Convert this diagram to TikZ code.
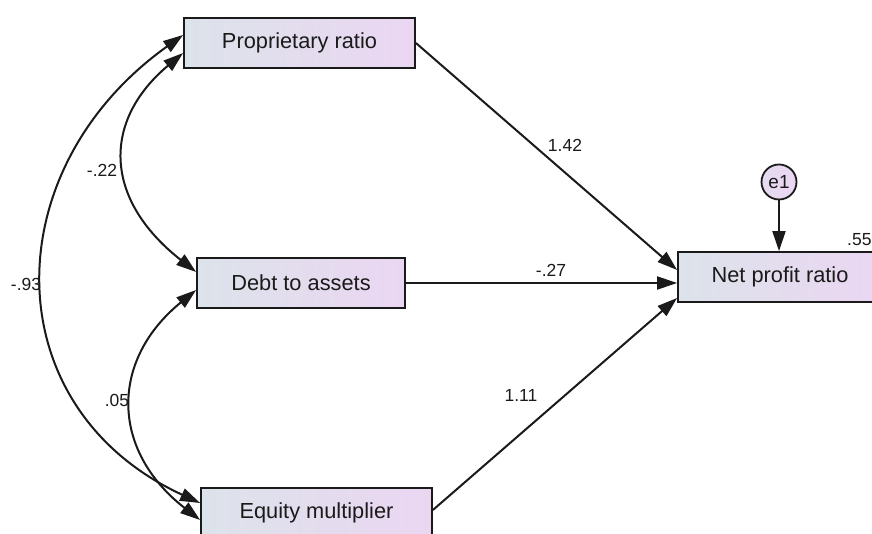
\documentclass[tikz,border=0pt]{standalone}
\usepackage{fontspec}
\setmainfont{Liberation Sans}
\usetikzlibrary{arrows.meta}
\definecolor{boxL}{HTML}{DCE3EA}
\definecolor{boxR}{HTML}{EBD6F2}
\definecolor{ink}{HTML}{1A1A1A}
\begin{document}
\begin{tikzpicture}[x=1pt,y=1pt,
  var/.style={draw=ink, line width=1.8pt, left color=boxL, right color=boxR,
    minimum height=50pt, inner sep=0pt, text=ink, font=\fontsize{21.8}{26}\selectfont},
  errc/.style={circle, draw=ink, line width=1.8pt, left color=boxL!40!boxR, right color=boxR,
    minimum size=35pt, inner sep=0pt, text=ink, font=\fontsize{19}{22}\selectfont},
  coef/.style={inner sep=1pt, text=ink, font=\fontsize{17.5}{20}\selectfont},
  path/.style={draw=ink, line width=2pt, -{Triangle[length=20pt,width=13pt]}},
  cov/.style={draw=ink, line width=2pt, {Triangle[length=20pt,width=13pt]}-{Triangle[length=20pt,width=13pt]}}
]
\clip (0,0) rectangle (872,534);
\fill[white] (0,0) rectangle (872,534);

\node[var, minimum width=231pt] (PR) at (299.5,491) {Proprietary ratio};
\node[var, minimum width=208pt] (DA) at (301,251) {Debt to assets};
\node[var, minimum width=231pt] (EM) at (316.5,21) {Equity multiplier};
\node[var, minimum width=204pt] (NP) at (780,257) {Net profit ratio};
\node[errc] (e1) at (779,352) {e1};

\draw[path] (PR.east) -- ([yshift=7]NP.west);
\draw[path] (DA.east) -- ([yshift=-6]NP.west);
\draw[path] ([yshift=3]EM.east) -- ([yshift=-21]NP.west);
\draw[path] (e1.south) -- (e1.south |- NP.north);

\draw[cov] ([yshift=-10]PR.west) .. controls +(-80,-67) and +(-94,74) .. ([yshift=11]DA.west);
\draw[cov] ([yshift=8]PR.west) .. controls +(-189,-135) and +(-206,95) .. ([yshift=10]EM.west);
\draw[cov] ([yshift=-7]DA.west) .. controls +(-86,-70) and +(-90,70) .. ([yshift=-7]EM.west);

\node[coef] (c1) at (102,364) {-.22};
\node[coef] (c2) at (26,250) {-.93};
\node[coef] (c3) at (117,134) {.05};
\node[coef] (c4) at (565,389) {1.42};
\node[coef] (c5) at (551,264) {-.27};
\node[coef] (c6) at (521,139) {1.11};
\node[coef, anchor=west] (c7) at (846,294) {.55};
\end{tikzpicture}
\end{document}
